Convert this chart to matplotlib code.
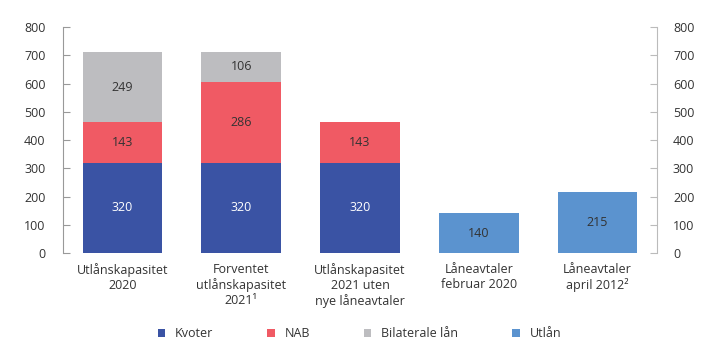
import matplotlib
matplotlib.use("Agg")
import matplotlib.pyplot as plt
import numpy as np

plt.rcParams['font.family'] = ['Open Sans', 'DejaVu Sans']

categories = ["Utlånskapasitet\n2020", "Forventet\nutlånskapasitet\n2021¹",
              "Utlånskapasitet\n2021 uten\nnye låneavtaler", "Låneavtaler\nfebruar 2020",
              "Låneavtaler\napril 2012²"]
kvoter = [320, 320, 320, 0, 0]
nab = [143, 286, 143, 0, 0]
bilaterale = [249, 106, 0, 0, 0]
utlan = [0, 0, 0, 140, 215]
yticks = [0, 100, 200, 300, 400, 500, 600, 700, 800]

series = [("Kvoter", kvoter, "#3a53a4"), ("NAB", nab, "#f05a64"),
          ("Bilaterale lån", bilaterale, "#bdbdc0"), ("Utlån", utlan, "#5b93cf")]

fs = 9
fig = plt.figure(figsize=(7.19, 3.62), dpi=100)
ax = fig.add_axes([0.0876, 0.301, 0.8262, 0.6244])
x = np.arange(len(categories))
bottom = np.zeros(len(categories))
txt = "#333333"
handles = []
for name, vals, col in series:
    vals = np.array(vals, dtype=float)
    b = ax.bar(x, vals, 0.67, bottom=bottom, color=col, label=name, linewidth=0)
    handles.append(b)
    for xi, v, bt in zip(x, vals, bottom):
        if v > 0:
            ax.text(xi, bt + v / 2, f"{int(v)}", ha="center", va="center",
                    fontsize=fs, color="white" if col == "#3a53a4" else txt)
    bottom += vals

ax.set_xlim(-0.5, 4.5)
ax.set_ylim(0, 800)
ax.set_yticks(yticks)
ax.set_xticks(x)
ax.set_xticklabels(categories, fontsize=fs, color=txt, linespacing=1.22)
ax.tick_params(axis="x", length=0, pad=7)
ax.tick_params(axis="y", direction="in", length=5, color="#999999", labelsize=fs,
               labelcolor=txt, pad=12.5)
for s in ["top", "right", "bottom"]:
    ax.spines[s].set_visible(False)
ax.spines["left"].set_color("#999999")

ax2 = ax.twinx()
ax2.set_ylim(0, 800)
ax2.set_yticks(yticks)
ax2.tick_params(axis="y", direction="in", length=5, color="#bbbbbb", labelsize=fs,
                labelcolor=txt, pad=11.5)
for s in ["top", "left", "bottom"]:
    ax2.spines[s].set_visible(False)
ax2.spines["right"].set_color("#bbbbbb")

leg = fig.legend(handles=handles, loc="center", bbox_to_anchor=(0.5, 0.078), ncol=4,
                 frameon=False, fontsize=fs, handlelength=0.6, handleheight=0.6,
                 columnspacing=4.3, handletextpad=0.8)
for t in leg.get_texts():
    t.set_color(txt)

fig.savefig("out.png", dpi=100)
